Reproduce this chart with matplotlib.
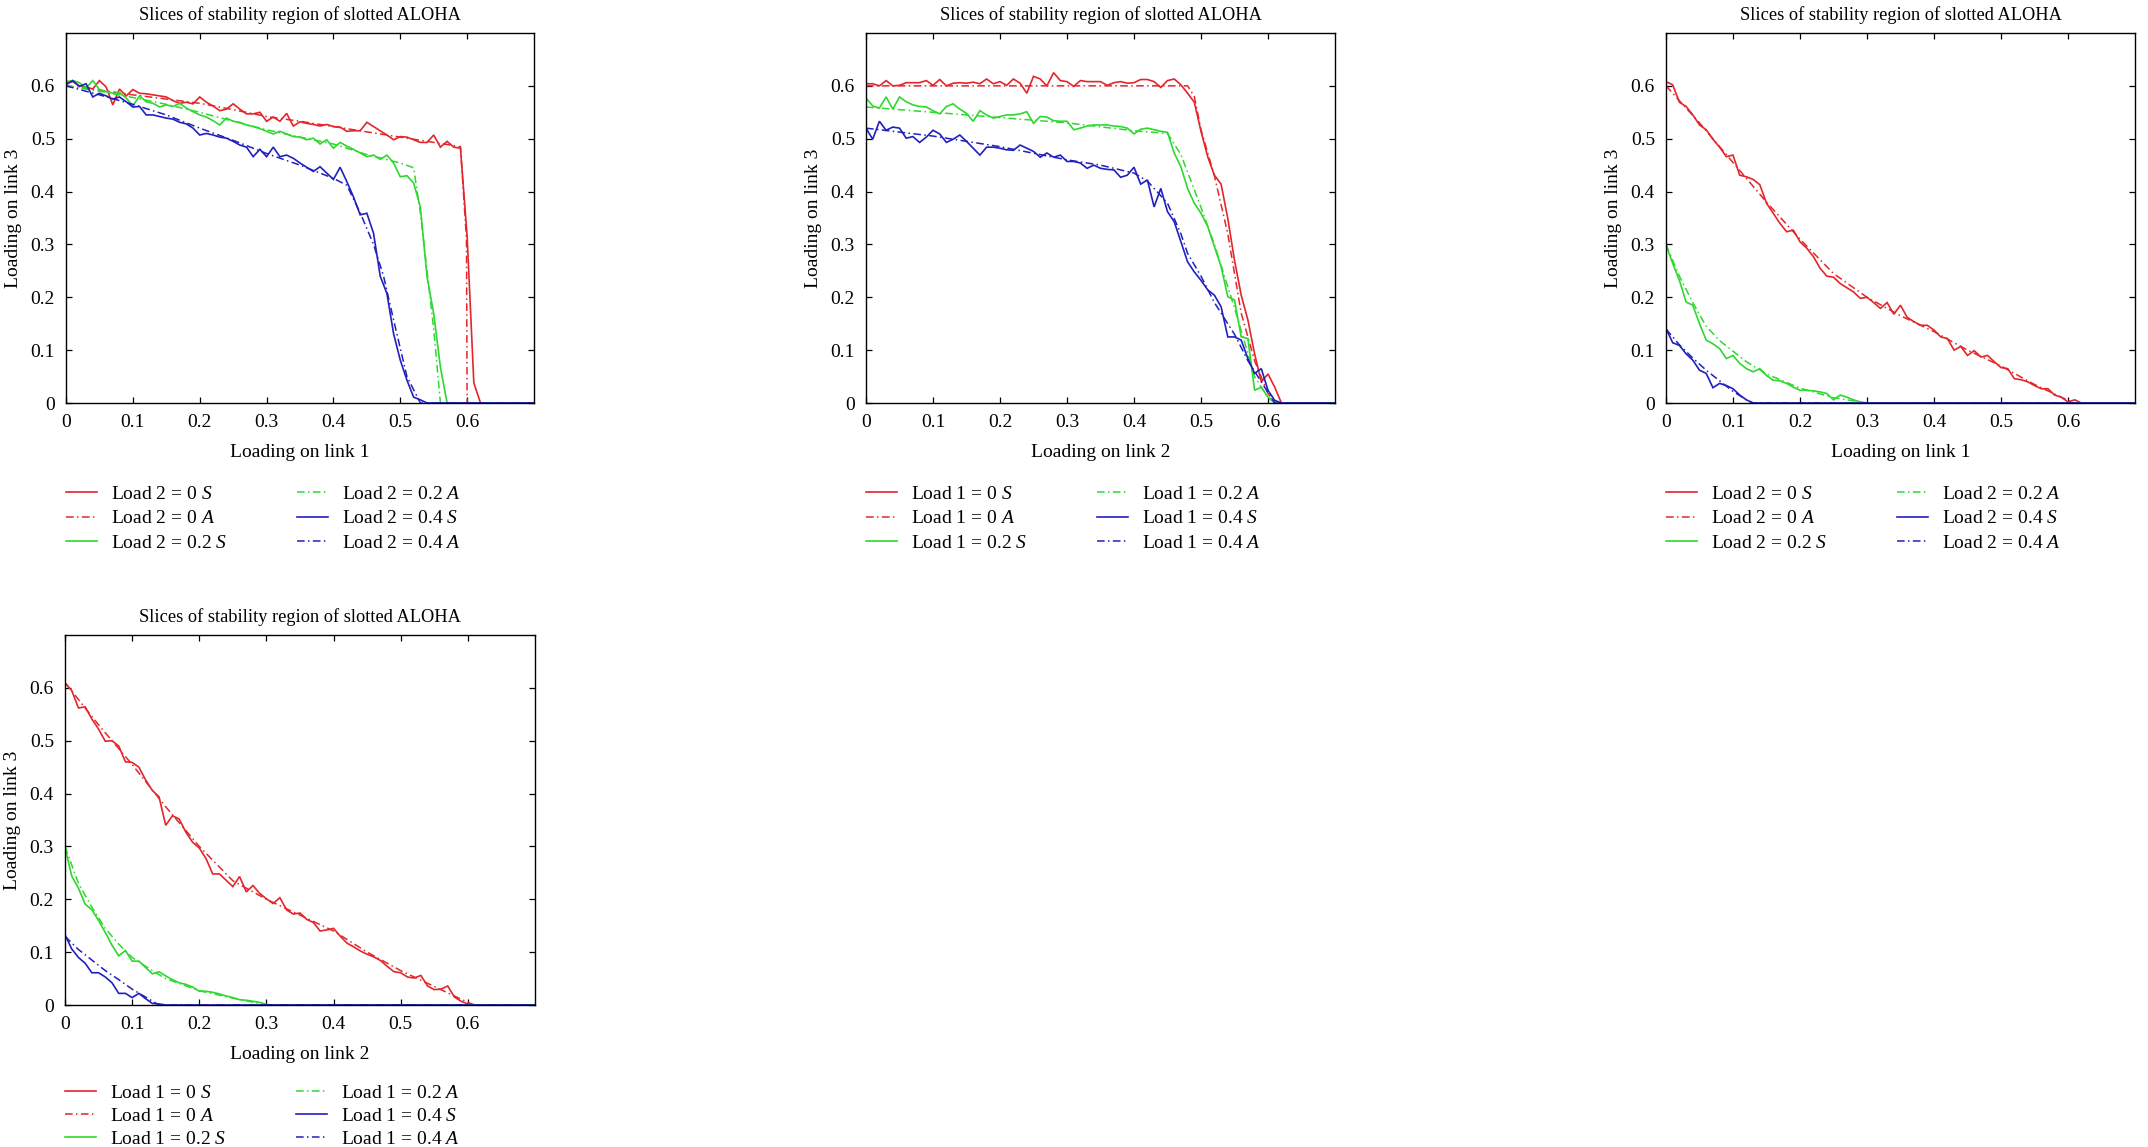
import matplotlib
matplotlib.use('Agg')
import matplotlib.pyplot as plt

plt.rcParams['font.family'] = ['Liberation Serif', 'DejaVu Serif']
plt.rcParams['mathtext.fontset'] = 'custom'
plt.rcParams['mathtext.it'] = 'Liberation Serif:italic'
plt.rcParams['mathtext.rm'] = 'Liberation Serif'

# ---------------- data ----------------
TITLE = "Slices of stability region of slotted ALOHA"
YLABEL = "Loading on link 3"
XLABELS = ["Loading on link 1", "Loading on link 2", "Loading on link 1", "Loading on link 2"]
LOAD_NAMES = ["Load 2", "Load 1", "Load 2", "Load 1"]
LOAD_LEVELS = ["0", "0.2", "0.4"]
TICKS = [0, 0.1, 0.2, 0.3, 0.4, 0.5, 0.6]
TICK_LABELS = ["0", "0.1", "0.2", "0.3", "0.4", "0.5", "0.6"]
X_END = 0.70

# simulation grid (step 0.01)
X_GRID = [0.00, 0.01, 0.02, 0.03, 0.04, 0.05, 0.06, 0.07, 0.08, 0.09,
          0.10, 0.11, 0.12, 0.13, 0.14, 0.15, 0.16, 0.17, 0.18, 0.19,
          0.20, 0.21, 0.22, 0.23, 0.24, 0.25, 0.26, 0.27, 0.28, 0.29,
          0.30, 0.31, 0.32, 0.33, 0.34, 0.35, 0.36, 0.37, 0.38, 0.39,
          0.40, 0.41, 0.42, 0.43, 0.44, 0.45, 0.46, 0.47, 0.48, 0.49,
          0.50, 0.51, 0.52, 0.53, 0.54, 0.55, 0.56, 0.57, 0.58, 0.59,
          0.60, 0.61, 0.62]

# ---- panel 1 : link 3 vs link 1 ----
P1_RED_S = [0.605, 0.608, 0.600, 0.598, 0.594, 0.610, 0.598, 0.564, 0.594, 0.581,
            0.593, 0.586, 0.585, 0.583, 0.581, 0.579, 0.572, 0.567, 0.569, 0.566,
            0.579, 0.569, 0.562, 0.553, 0.556, 0.566, 0.556, 0.547, 0.547, 0.550,
            0.533, 0.541, 0.533, 0.548, 0.524, 0.532, 0.529, 0.527, 0.524, 0.527,
            0.523, 0.522, 0.514, 0.515, 0.515, 0.531, 0.523, 0.515, 0.507, 0.498,
            0.504, 0.503, 0.498, 0.493, 0.493, 0.507, 0.484, 0.495, 0.484, 0.482,
            0.315, 0.038, 0.0]
P1_RED_A_X = [0, 0.05, 0.1, 0.15, 0.2, 0.25, 0.3, 0.35, 0.4, 0.45, 0.5, 0.55, 0.59, 0.599, 0.60]
P1_RED_A_Y = [0.600, 0.592, 0.583, 0.575, 0.567, 0.555, 0.542, 0.533, 0.523, 0.513, 0.503, 0.493, 0.485, 0.31, 0.0]
P1_GREEN_S = [0.608, 0.610, 0.606, 0.596, 0.610, 0.593, 0.589, 0.586, 0.587, 0.577,
              0.562, 0.581, 0.570, 0.567, 0.560, 0.564, 0.561, 0.567, 0.558, 0.551,
              0.545, 0.541, 0.534, 0.526, 0.539, 0.533, 0.531, 0.526, 0.523, 0.519,
              0.514, 0.509, 0.514, 0.509, 0.504, 0.503, 0.498, 0.501, 0.490, 0.498,
              0.482, 0.493, 0.486, 0.480, 0.473, 0.466, 0.469, 0.461, 0.469, 0.454,
              0.428, 0.430, 0.416, 0.371, 0.239, 0.169, 0.068, 0.0]
P1_GREEN_A_X = [0, 0.05, 0.1, 0.15, 0.2, 0.25, 0.3, 0.35, 0.4, 0.45, 0.5, 0.52, 0.53, 0.54, 0.55, 0.56]
P1_GREEN_A_Y = [0.600, 0.590, 0.578, 0.565, 0.550, 0.533, 0.517, 0.503, 0.490, 0.470, 0.454, 0.445, 0.36, 0.25, 0.14, 0.0]
P1_BLUE_S = [0.602, 0.610, 0.599, 0.604, 0.579, 0.586, 0.581, 0.575, 0.579, 0.570,
             0.560, 0.561, 0.545, 0.545, 0.542, 0.539, 0.537, 0.531, 0.528, 0.520,
             0.507, 0.510, 0.507, 0.503, 0.501, 0.495, 0.488, 0.484, 0.466, 0.480,
             0.466, 0.484, 0.466, 0.469, 0.463, 0.454, 0.446, 0.438, 0.447, 0.435,
             0.423, 0.446, 0.419, 0.390, 0.356, 0.359, 0.321, 0.240, 0.207, 0.131,
             0.081, 0.043, 0.011, 0.006, 0.0]
P1_BLUE_A_X = [0, 0.05, 0.1, 0.15, 0.2, 0.25, 0.3, 0.35, 0.4, 0.42, 0.44, 0.46, 0.475, 0.49, 0.51, 0.53]
P1_BLUE_A_Y = [0.600, 0.583, 0.565, 0.545, 0.520, 0.497, 0.472, 0.450, 0.425, 0.412, 0.36, 0.30, 0.24, 0.157, 0.05, 0.0]

# ---- panel 2 : link 3 vs link 2 ----
P2_RED_S = [0.604, 0.604, 0.600, 0.610, 0.600, 0.601, 0.606, 0.606, 0.606, 0.610,
            0.601, 0.612, 0.600, 0.605, 0.606, 0.605, 0.607, 0.604, 0.613, 0.604,
            0.608, 0.601, 0.613, 0.605, 0.586, 0.618, 0.613, 0.600, 0.625, 0.610,
            0.608, 0.599, 0.610, 0.608, 0.608, 0.608, 0.601, 0.606, 0.608, 0.605,
            0.606, 0.612, 0.612, 0.608, 0.597, 0.610, 0.613, 0.602, 0.586, 0.569,
            0.514, 0.466, 0.431, 0.414, 0.349, 0.270, 0.204, 0.157, 0.093, 0.040,
            0.055, 0.030, 0.0]
P2_RED_A_X = [0, 0.1, 0.2, 0.3, 0.4, 0.48, 0.49, 0.5, 0.52, 0.54, 0.56, 0.58, 0.6, 0.61]
P2_RED_A_Y = [0.600, 0.600, 0.600, 0.600, 0.600, 0.600, 0.58, 0.517, 0.43, 0.32, 0.17, 0.08, 0.018, 0.0]
P2_GREEN_S = [0.577, 0.562, 0.558, 0.579, 0.556, 0.579, 0.570, 0.564, 0.561, 0.560,
              0.553, 0.547, 0.561, 0.566, 0.556, 0.548, 0.533, 0.553, 0.545, 0.539,
              0.542, 0.545, 0.545, 0.547, 0.551, 0.529, 0.542, 0.541, 0.534, 0.533,
              0.533, 0.517, 0.520, 0.524, 0.526, 0.526, 0.526, 0.524, 0.523, 0.520,
              0.509, 0.518, 0.520, 0.517, 0.514, 0.512, 0.473, 0.447, 0.406, 0.378,
              0.359, 0.334, 0.296, 0.258, 0.201, 0.195, 0.125, 0.122, 0.024, 0.030,
              0.011, 0.002, 0.0]
P2_GREEN_A_X = [0, 0.1, 0.2, 0.3, 0.4, 0.45, 0.47, 0.5, 0.52, 0.55, 0.58, 0.6, 0.61]
P2_GREEN_A_Y = [0.560, 0.550, 0.540, 0.530, 0.515, 0.510, 0.47, 0.37, 0.30, 0.18, 0.05, 0.01, 0.0]
P2_BLUE_S = [0.520, 0.499, 0.533, 0.516, 0.522, 0.520, 0.501, 0.504, 0.493, 0.503,
             0.516, 0.509, 0.493, 0.499, 0.507, 0.495, 0.482, 0.469, 0.484, 0.484,
             0.482, 0.479, 0.478, 0.488, 0.482, 0.476, 0.465, 0.473, 0.465, 0.469,
             0.457, 0.457, 0.454, 0.444, 0.450, 0.444, 0.442, 0.441, 0.427, 0.431,
             0.446, 0.414, 0.422, 0.371, 0.406, 0.362, 0.343, 0.305, 0.267, 0.248,
             0.232, 0.214, 0.204, 0.182, 0.125, 0.125, 0.119, 0.084, 0.056, 0.065,
             0.024, 0.005, 0.0]
P2_BLUE_A_X = [0, 0.1, 0.2, 0.3, 0.35, 0.4, 0.42, 0.45, 0.47, 0.48, 0.5, 0.52, 0.55, 0.57, 0.6, 0.61]
P2_BLUE_A_Y = [0.520, 0.505, 0.485, 0.460, 0.450, 0.435, 0.42, 0.378, 0.32, 0.283, 0.24, 0.19, 0.13, 0.08, 0.02, 0.0]

# ---- panel 3 : link 3 vs link 1 ----
P3_RED_S = [0.608, 0.602, 0.569, 0.561, 0.545, 0.526, 0.517, 0.499, 0.484, 0.466,
            0.469, 0.431, 0.428, 0.423, 0.413, 0.378, 0.359, 0.340, 0.324, 0.327,
            0.305, 0.293, 0.277, 0.255, 0.240, 0.238, 0.226, 0.218, 0.210, 0.198,
            0.200, 0.190, 0.179, 0.190, 0.168, 0.185, 0.162, 0.154, 0.147, 0.147,
            0.138, 0.125, 0.122, 0.100, 0.107, 0.090, 0.099, 0.087, 0.090, 0.078,
            0.067, 0.065, 0.046, 0.044, 0.040, 0.033, 0.027, 0.027, 0.015, 0.011,
            0.002, 0.006, 0.0]
P3_RED_A_X = [0, 0.05, 0.1, 0.15, 0.2, 0.25, 0.3, 0.35, 0.4, 0.45, 0.5, 0.55, 0.6, 0.61]
P3_RED_A_Y = [0.600, 0.530, 0.455, 0.380, 0.310, 0.245, 0.200, 0.165, 0.135, 0.100, 0.070, 0.035, 0.005, 0.0]
P3_GREEN_S = [0.299, 0.264, 0.232, 0.191, 0.185, 0.150, 0.119, 0.112, 0.103, 0.084,
              0.090, 0.075, 0.065, 0.059, 0.065, 0.052, 0.043, 0.042, 0.037, 0.030,
              0.024, 0.024, 0.023, 0.021, 0.018, 0.006, 0.015, 0.011, 0.006, 0.002,
              0.0]
P3_GREEN_A_X = [0, 0.02, 0.04, 0.06, 0.08, 0.1, 0.12, 0.15, 0.2, 0.25, 0.3]
P3_GREEN_A_Y = [0.300, 0.240, 0.190, 0.145, 0.118, 0.098, 0.078, 0.055, 0.028, 0.010, 0.0]
P3_BLUE_S = [0.141, 0.114, 0.109, 0.093, 0.081, 0.062, 0.056, 0.029, 0.037, 0.033,
             0.027, 0.015, 0.006, 0.0]
P3_BLUE_A_X = [0, 0.02, 0.04, 0.06, 0.08, 0.1, 0.12, 0.13]
P3_BLUE_A_Y = [0.140, 0.110, 0.085, 0.062, 0.042, 0.022, 0.006, 0.0]

# ---- panel 4 : link 3 vs link 2 ----
P4_RED_S = [0.609, 0.595, 0.562, 0.564, 0.541, 0.522, 0.499, 0.500, 0.490, 0.460,
            0.459, 0.450, 0.426, 0.406, 0.394, 0.340, 0.358, 0.352, 0.327, 0.308,
            0.297, 0.277, 0.248, 0.248, 0.236, 0.224, 0.243, 0.214, 0.226, 0.211,
            0.201, 0.192, 0.203, 0.180, 0.172, 0.174, 0.162, 0.156, 0.140, 0.142,
            0.145, 0.130, 0.117, 0.110, 0.102, 0.096, 0.091, 0.084, 0.073, 0.063,
            0.061, 0.053, 0.051, 0.056, 0.036, 0.029, 0.030, 0.036, 0.015, 0.007,
            0.002, 0.0]
P4_RED_A_X = [0, 0.05, 0.1, 0.15, 0.2, 0.25, 0.3, 0.35, 0.4, 0.45, 0.5, 0.55, 0.6, 0.61]
P4_RED_A_Y = [0.610, 0.530, 0.455, 0.375, 0.300, 0.235, 0.200, 0.170, 0.140, 0.100, 0.065, 0.035, 0.005, 0.0]
P4_GREEN_S = [0.298, 0.244, 0.221, 0.191, 0.180, 0.160, 0.137, 0.113, 0.093, 0.103,
              0.083, 0.083, 0.071, 0.059, 0.063, 0.055, 0.048, 0.042, 0.039, 0.034,
              0.026, 0.026, 0.024, 0.021, 0.017, 0.014, 0.010, 0.009, 0.007, 0.005,
              0.001, 0.0]
P4_GREEN_A_X = [0, 0.02, 0.04, 0.06, 0.08, 0.1, 0.13, 0.15, 0.2, 0.25, 0.3]
P4_GREEN_A_Y = [0.300, 0.230, 0.185, 0.145, 0.115, 0.090, 0.065, 0.050, 0.027, 0.013, 0.0]
P4_BLUE_S = [0.133, 0.106, 0.090, 0.079, 0.061, 0.061, 0.053, 0.042, 0.022, 0.022,
             0.014, 0.022, 0.012, 0.003, 0.002, 0.0]
P4_BLUE_A_X = [0, 0.02, 0.04, 0.06, 0.08, 0.1, 0.12, 0.14]
P4_BLUE_A_Y = [0.130, 0.105, 0.085, 0.065, 0.048, 0.030, 0.015, 0.0]

COLORS = ['#e3262b', '#2fd82f', '#2020bf']

PANELS = [
    [(P1_RED_S, P1_RED_A_X, P1_RED_A_Y), (P1_GREEN_S, P1_GREEN_A_X, P1_GREEN_A_Y), (P1_BLUE_S, P1_BLUE_A_X, P1_BLUE_A_Y)],
    [(P2_RED_S, P2_RED_A_X, P2_RED_A_Y), (P2_GREEN_S, P2_GREEN_A_X, P2_GREEN_A_Y), (P2_BLUE_S, P2_BLUE_A_X, P2_BLUE_A_Y)],
    [(P3_RED_S, P3_RED_A_X, P3_RED_A_Y), (P3_GREEN_S, P3_GREEN_A_X, P3_GREEN_A_Y), (P3_BLUE_S, P3_BLUE_A_X, P3_BLUE_A_Y)],
    [(P4_RED_S, P4_RED_A_X, P4_RED_A_Y), (P4_GREEN_S, P4_GREEN_A_X, P4_GREEN_A_Y), (P4_BLUE_S, P4_BLUE_A_X, P4_BLUE_A_Y)],
]

# ---------------- layout (pixels: left, top, width, height) ----------------
W, H = 2148, 1147
RECTS = [(66, 33, 468, 370), (866, 33, 469, 370), (1666, 33, 469, 370), (65, 635, 470, 370)]
LEG_Y = [-0.222, -0.222, -0.222, -0.214]
LEG_SPACING = [0.36, 0.36, 0.36, 0.28]

fig = plt.figure(figsize=(W / 100, H / 100), dpi=100)
FS = 14
DASH = (0, (5, 2.2, 1, 2.2))

for i, (l, t, w, h) in enumerate(RECTS):
    ax = fig.add_axes([l / W, 1 - (t + h) / H, w / W, h / H])
    for c, (s_y, a_x, a_y) in enumerate(PANELS[i]):
        lev = LOAD_LEVELS[c]
        xs = X_GRID[:len(s_y)] + [X_END]
        ys = list(s_y) + [0.0]
        ax.plot(xs, ys, color=COLORS[c], lw=1.2, solid_joinstyle='miter',
                label=f"{LOAD_NAMES[i]} = {lev} $\\mathit{{S}}$")
        ax.plot(list(a_x) + [X_END], list(a_y) + [0.0], color=COLORS[c], lw=1.1,
                linestyle=DASH, label=f"{LOAD_NAMES[i]} = {lev} $\\mathit{{A}}$")
    ax.set_xlim(0, 0.7)
    ax.set_ylim(0, 0.7)
    ax.set_xticks(TICKS)
    ax.set_xticklabels(TICK_LABELS)
    ax.set_yticks(TICKS)
    ax.set_yticklabels(TICK_LABELS)
    ax.tick_params(direction='in', top=True, right=True, length=4, width=0.9,
                   labelsize=FS, pad=8)
    for sp in ax.spines.values():
        sp.set_linewidth(1.0)
    ax.set_title(TITLE, fontsize=13.2, pad=9)
    ax.set_ylabel(YLABEL, fontsize=FS, labelpad=6)
    ax.set_xlabel(XLABELS[i], fontsize=FS, labelpad=9)
    ax.legend(loc='upper left', bbox_to_anchor=(0.0, LEG_Y[i]), ncol=2, frameon=False,
              fontsize=FS, handlelength=1.6, handletextpad=0.7, columnspacing=3.6,
              labelspacing=LEG_SPACING[i], borderpad=0, borderaxespad=0)

fig.savefig('out.png', dpi=100)
